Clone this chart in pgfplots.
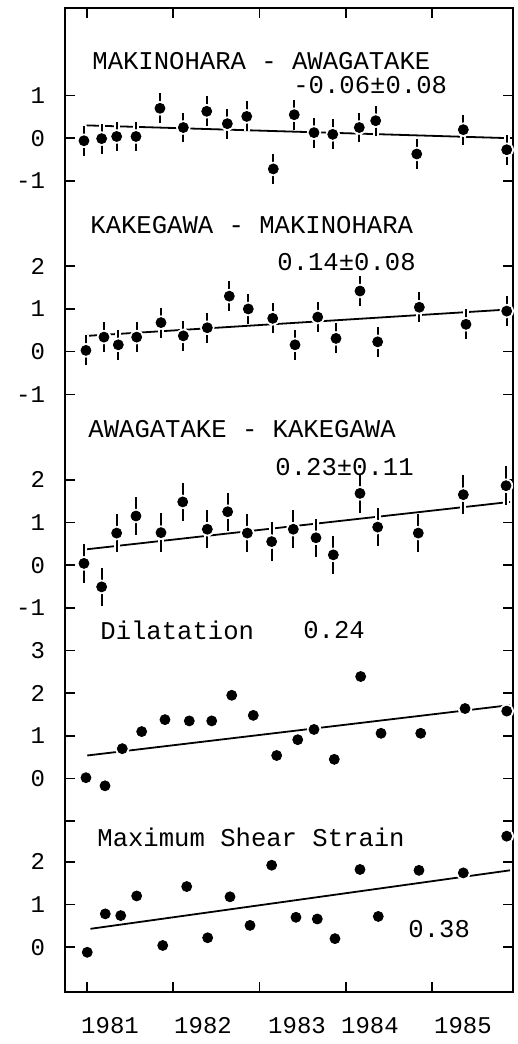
\documentclass[border=0pt]{standalone}
\usepackage{fontspec}
\setmainfont{Liberation Mono}
\usepackage{pgfplots}
\usepackage{pgfplotstable}
\pgfplotsset{compat=1.18}

% baseline changes (t = year, v = value, e = error)
\pgfplotstableread{
t v e
1980.965 -0.06 0.35
1981.170 -0.01 0.35
1981.344 0.04 0.35
1981.568 0.04 0.35
1981.846 0.70 0.35
1982.117 0.25 0.35
1982.388 0.63 0.35
1982.627 0.34 0.35
1982.852 0.51 0.35
1983.160 -0.72 0.35
1983.403 0.55 0.35
1983.632 0.13 0.35
1983.849 0.09 0.35
1984.157 0.25 0.35
1984.347 0.41 0.35
1984.823 -0.37 0.35
1985.363 0.20 0.35
1985.866 -0.27 0.35
}\makaw

\pgfplotstableread{
t v e
1980.988 0.03 0.35
1981.197 0.34 0.35
1981.363 0.16 0.35
1981.576 0.34 0.35
1981.858 0.68 0.35
1982.117 0.37 0.35
1982.395 0.56 0.35
1982.650 1.30 0.35
1982.870 1.00 0.35
1983.153 0.78 0.35
1983.412 0.16 0.35
1983.675 0.81 0.35
1983.887 0.31 0.35
1984.165 1.42 0.35
1984.370 0.23 0.35
1984.853 1.04 0.35
1985.394 0.64 0.35
1985.866 0.95 0.35
}\kakmak

\pgfplotstableread{
t v e
1980.965 0.04 0.45
1981.170 -0.51 0.45
1981.344 0.75 0.45
1981.568 1.15 0.45
1981.858 0.76 0.45
1982.110 1.48 0.45
1982.395 0.84 0.45
1982.631 1.25 0.45
1982.859 0.75 0.45
1983.141 0.55 0.45
1983.392 0.84 0.45
1983.655 0.64 0.45
1983.856 0.24 0.45
1984.165 1.68 0.45
1984.370 0.89 0.45
1984.841 0.75 0.45
1985.363 1.65 0.45
1985.858 1.86 0.45
}\awakak

\pgfplotstableread{
t v
1980.988 0.02
1981.209 -0.17
1981.409 0.70
1981.634 1.10
1981.904 1.38
1982.186 1.35
1982.446 1.35
1982.678 1.95
1982.928 1.48
1983.199 0.54
1983.443 0.91
1983.632 1.15
1983.867 0.45
1984.173 2.39
1984.409 1.06
1984.869 1.06
1985.383 1.64
1985.866 1.58
}\dilat

\pgfplotstableread{
t v
1981.003 -0.12
1981.212 0.78
1981.391 0.74
1981.576 1.20
1981.878 0.04
1982.156 1.42
1982.399 0.22
1982.658 1.18
1982.890 0.51
1983.141 1.92
1983.423 0.70
1983.670 0.66
1983.875 0.20
1984.165 1.82
1984.377 0.72
1984.849 1.80
1985.363 1.74
1985.866 2.60
}\shear

\pgfplotsset{
  halo/.style={only marks, mark=*, mark size=3.4pt,
    mark options={draw=white, fill=white}, forget plot},
  hbars/.style={error bars/y dir=both, error bars/y explicit,
    error bars/error mark=none,
    error bars/error bar style={white, line width=3pt}},
  pts/.style={only marks, mark=*, mark size=2.5pt,
    mark options={draw=black, fill=black}},
  bars/.style={error bars/y dir=both, error bars/y explicit,
    error bars/error mark=none,
    error bars/error bar style={black, line width=0.9pt}},
  trend/.style={black, line width=0.9pt, no marks},
}
\tikzset{lbl/.style={anchor=west, inner sep=0pt, font=\fontsize{12.8}{13}\selectfont}}
% tick label text, set in the text font
\newcommand\tl[1]{\mbox{\fontsize{12}{12}\selectfont #1}}

\begin{document}
\begin{tikzpicture}
\begin{axis}[
  scale only axis,
  width=224pt, height=492pt,
  xmin=1980.745, xmax=1985.939,
  ymin=0, ymax=23.05,
  clip=false,
  axis line style={line width=1.2pt},
  xtick={1981,1982,1983,1984,1985},
  xticklabels={},
  extra x ticks={1981.267,1982.345,1983.435,1984.281,1985.359},
  extra x tick labels={\tl{1981},\tl{1982},\tl{1983},\tl{1984},\tl{1985}},
  extra x tick style={major tick length=0pt,
    tick label style={yshift=-9pt}},
  ytick={1.05,2.05,3.05,4,5,6,7,8,9,10,11,12,14,15,16,17,19,20,21},
  yticklabels={\tl{0},\tl{1},\tl{2},{},\tl{0},\tl{1},\tl{2},\tl{3},
    \tl{-1},\tl{0},\tl{1},\tl{2},\tl{-1},\tl{0},\tl{1},\tl{2},
    \tl{-1},\tl{0},\tl{1}},
  tick style={black, line width=0.8pt},
  major tick length=5pt,
  tick align=inside,
  yticklabel style={xshift=-6.5pt},
]
% panel 1
\addplot[trend] table[row sep=\\, x=t, y expr=\thisrow{v}+20] {t v\\ 1980.996 0.30\\ 1985.904 0.00\\};
\addplot[halo, hbars] table[x=t, y expr=\thisrow{v}+20, y error=e] {\makaw};
\addplot[pts, bars] table[x=t, y expr=\thisrow{v}+20, y error=e] {\makaw};
% panel 2
\addplot[trend] table[row sep=\\, x=t, y expr=\thisrow{v}+15] {t v\\ 1981.003 0.37\\ 1985.904 0.99\\};
\addplot[halo, hbars] table[x=t, y expr=\thisrow{v}+15, y error=e] {\kakmak};
\addplot[pts, bars] table[x=t, y expr=\thisrow{v}+15, y error=e] {\kakmak};
% panel 3
\addplot[trend] table[row sep=\\, x=t, y expr=\thisrow{v}+10] {t v\\ 1980.996 0.37\\ 1985.904 1.48\\};
\addplot[halo, hbars] table[x=t, y expr=\thisrow{v}+10, y error=e] {\awakak};
\addplot[pts, bars] table[x=t, y expr=\thisrow{v}+10, y error=e] {\awakak};
% panel 4
\addplot[trend] table[row sep=\\, x=t, y expr=\thisrow{v}+5] {t v\\ 1981.003 0.54\\ 1985.904 1.72\\};
\addplot[halo] table[x=t, y expr=\thisrow{v}+5] {\dilat};
\addplot[pts] table[x=t, y expr=\thisrow{v}+5] {\dilat};
% panel 5
\addplot[trend] table[row sep=\\, x=t, y expr=\thisrow{v}+1.05] {t v\\ 1981.040 0.43\\ 1985.904 1.80\\};
\addplot[halo] table[x=t, y expr=\thisrow{v}+1.05] {\shear};
\addplot[pts] table[x=t, y expr=\thisrow{v}+1.05] {\shear};

\node[lbl] at (axis cs:1981.058,21.81) {MAKINOHARA - AWAGATAKE};
\node[lbl] at (axis cs:1983.388,21.25) {-0.06±0.08};
\node[lbl] at (axis cs:1981.035,17.97) {KAKEGAWA - MAKINOHARA};
\node[lbl] at (axis cs:1983.203,17.10) {0.14±0.08};
\node[lbl] at (axis cs:1981.012,13.19) {AWAGATAKE - KAKEGAWA};
\node[lbl] at (axis cs:1983.180,12.30) {0.23±0.11};
\node[lbl] at (axis cs:1981.151,8.48) {Dilatation};
\node[lbl] at (axis cs:1983.504,8.48) {0.24};
\node[lbl] at (axis cs:1981.116,3.63) {Maximum Shear Strain};
\node[lbl] at (axis cs:1984.722,1.48) {0.38};

\path (rel axis cs:0,0) ++(-32.5pt,-26pt) (rel axis cs:1,1) ++(2pt,4pt);
\end{axis}
\end{tikzpicture}
\end{document}
